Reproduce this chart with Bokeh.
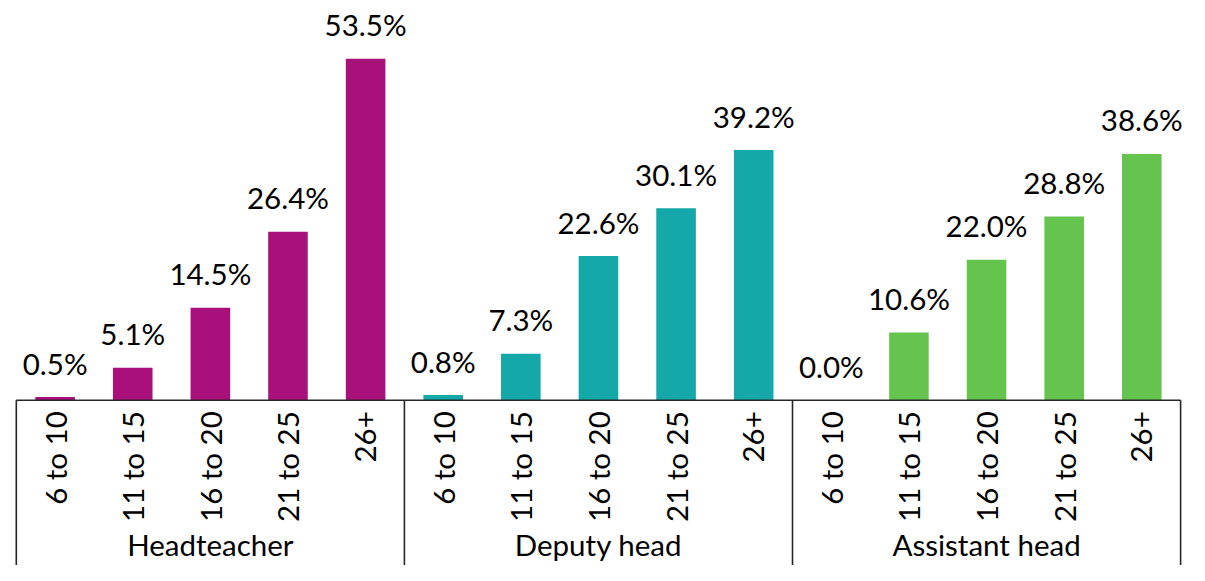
from bokeh.plotting import figure
from bokeh.models import ColumnDataSource, Range1d
from bokeh.core.properties import value
from bokeh.embed import file_html
from bokeh.resources import INLINE
import math

groups = ["Headteacher", "Deputy head", "Assistant head"]
bands = ["6 to 10", "11 to 15", "16 to 20", "21 to 25", "26+"]
headteacher = [0.5, 5.1, 14.5, 26.4, 53.5]
deputy_head = [0.8, 7.3, 22.6, 30.1, 39.2]
assistant_head = [0.0, 10.6, 22.0, 28.8, 38.6]
group_colors = ["#A8117A", "#14A8A8", "#64C44E"]

series = [headteacher, deputy_head, assistant_head]
n = len(bands)

xs, tops, cols, labels, subl = [], [], [], [], []
for gi, vals in enumerate(series):
    for bi, v in enumerate(vals):
        xs.append(gi * n + bi + 0.5)
        tops.append(v)
        cols.append(group_colors[gi])
        labels.append(f"{v:.1f}%")
        subl.append(bands[bi])

src = ColumnDataSource(dict(x=xs, top=tops, color=cols, label=labels, sub=subl, zero=[0] * len(xs)))

W, H = 1189, 565
px_per_unit = 77.62
left_px = 15.8
x_start = -left_px / px_per_unit
x_end = x_start + W / px_per_unit

px_per_pct = 6.38
base_px = 399.7
y_end = base_px / px_per_pct
y_start = -(H - base_px) / px_per_pct

p = figure(width=W, height=H, output_backend="svg", toolbar_location=None,
           x_range=Range1d(x_start, x_end), y_range=Range1d(y_start, y_end),
           min_border=0, min_border_left=0, min_border_right=0,
           min_border_top=0, min_border_bottom=0)
p.xaxis.visible = False
p.yaxis.visible = False
p.xgrid.visible = False
p.ygrid.visible = False
p.outline_line_color = None
p.background_fill_color = "white"
p.border_fill_color = "white"

p.vbar(x="x", top="top", bottom=0, width=0.51, fill_color="color", line_color=None, source=src)

font = value("Lato")
fs = "29.5px"

p.text(x="x", y="top", text="label", source=src, text_align="center",
       text_baseline="alphabetic", y_offset=-34, text_font=font,
       text_font_size=fs, text_color="#000000")

p.text(x="x", y="zero", text="sub", source=src, angle=math.pi / 2,
       text_align="right", text_baseline="middle", y_offset=11,
       text_font=font, text_font_size=fs, text_color="#000000")

gsrc = ColumnDataSource(dict(x=[gi * n + n / 2 for gi in range(len(groups))],
                             y=[0] * len(groups), text=groups))
p.text(x="x", y="y", text="text", source=gsrc, text_align="center",
       text_baseline="alphabetic", y_offset=144, text_font=font,
       text_font_size=fs, text_color="#000000")

# axis line and group separators
p.segment(x0=[0], y0=[0], x1=[len(groups) * n], y1=[0], line_color="#262626", line_width=1.6)
seps = [gi * n for gi in range(len(groups) + 1)]
p.segment(x0=seps, y0=[0] * len(seps), x1=seps, y1=[y_start] * len(seps),
          line_color="#262626", line_width=1.6)

open("out.html", "w").write(file_html(p, INLINE))
